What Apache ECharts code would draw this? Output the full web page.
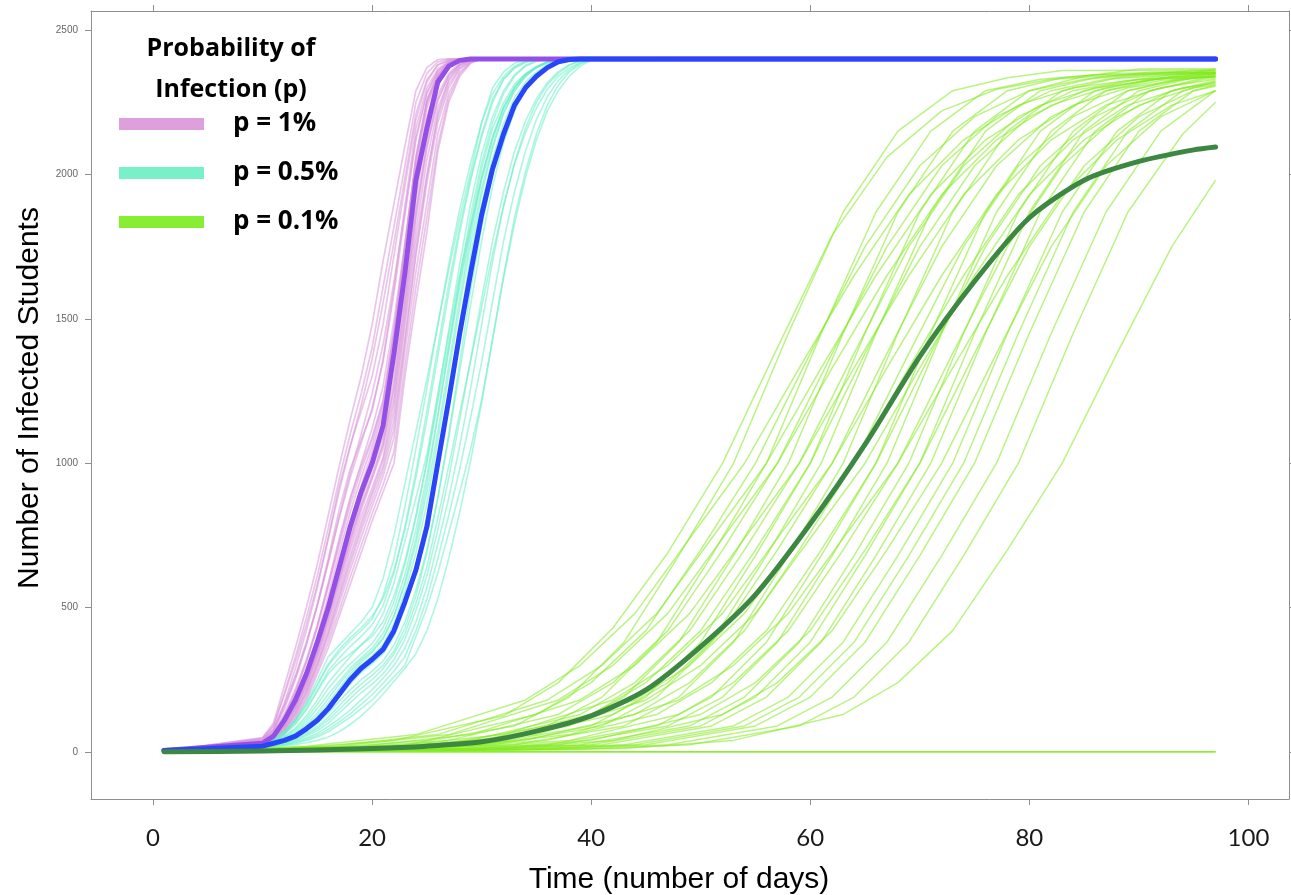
<!DOCTYPE html>
<html><head><meta charset="utf-8">
<script src="https://cdn.jsdelivr.net/npm/echarts@6/dist/echarts.min.js"></script>
<style>html,body{margin:0;padding:0;background:#fff}#c{width:1291px;height:895px}</style>
</head><body><div id="c"></div>
<script>
const X_TICKS=[0,20,40,60,80,100];
const Y_TICKS=[0,500,1000,1500,2000,2500];
const LEGEND_TITLE='Probability of\nInfection (p)';
const LEGEND_NAMES=['p = 1%','p = 0.5%','p = 0.1%'];

const PURPLE_DAYS=[1,10,11,12,13,14,15,16,17,18,19,20,21,22,23,24,25,26,27,28,29,30,97];
const PURPLE_RUNS=[
[3,50,100,230,360,500,650,820,990,1150,1300,1480,1700,1900,2100,2290,2370,2398,2400,2400,2400,2400,2400],
[3,46,89,198,313,440,580,740,903,1058,1200,1360,1555,1765,1988,2210,2328,2379,2394,2399,2400,2400,2400],
[3,44,80,170,290,420,570,740,920,1060,1180,1300,1480,1720,1960,2190,2320,2380,2396,2400,2400,2400,2400],
[3,42,78,165,265,380,510,660,815,965,1100,1240,1410,1630,1875,2130,2285,2359,2388,2398,2400,2400,2400],
[3,40,72,150,250,370,510,670,840,980,1080,1180,1360,1610,1890,2160,2300,2365,2392,2400,2400,2400,2400],
[3,38,67,133,218,320,440,580,728,873,1000,1120,1265,1495,1763,2050,2243,2340,2382,2397,2400,2400,2400],
[3,36,62,120,205,310,435,585,740,880,990,1090,1220,1460,1750,2060,2260,2350,2388,2399,2400,2400,2400],
[3,35,55,100,170,260,370,500,640,780,900,1000,1120,1360,1650,1970,2200,2320,2375,2395,2400,2400,2400],
[3,34,58,110,180,270,380,510,650,790,920,1040,1180,1420,1720,2020,2230,2335,2380,2397,2400,2400,2400],
[3,33,52,95,160,245,350,475,610,745,870,980,1090,1300,1590,1910,2170,2310,2370,2394,2400,2400,2400],
[3,32,50,90,155,240,345,465,598,730,848,950,1065,1270,1563,1868,2100,2260,2344,2382,2397,2400,2400],
[3,30,48,88,150,232,335,455,585,715,835,945,1050,1230,1520,1840,2090,2255,2340,2380,2396,2400,2400],
[3,28,45,80,140,220,320,430,555,680,795,900,1010,1180,1475,1765,2000,2200,2312,2368,2393,2400,2400],
[3,27,43,78,135,210,305,415,540,665,780,890,990,1150,1430,1730,1990,2210,2330,2378,2396,2400,2400],
[3,24,40,70,125,200,295,395,513,630,743,850,955,1090,1388,1663,1900,2140,2281,2354,2389,2400,2400],
[3,20,35,60,110,180,270,360,470,580,690,800,900,1000,1300,1560,1800,2080,2250,2340,2385,2400,2400],
[3,36,60,115,190,285,400,540,690,830,950,1060,1200,1440,1740,2040,2250,2345,2385,2398,2400,2400,2400],
[3,29,47,85,148,228,330,445,570,700,815,915,1020,1210,1500,1800,2050,2230,2325,2374,2395,2400,2400],
[3,47,92,205,330,465,610,775,945,1100,1240,1400,1610,1820,2030,2250,2350,2390,2399,2400,2400,2400,2400],
[3,41,75,158,258,375,505,655,810,950,1070,1190,1350,1590,1860,2120,2280,2358,2390,2399,2400,2400,2400],
[3,37,64,125,210,312,430,570,715,855,975,1080,1210,1460,1760,2060,2255,2345,2385,2398,2400,2400,2400],
[3,31,49,92,158,242,348,470,600,735,855,960,1070,1260,1550,1870,2120,2275,2350,2385,2398,2400,2400],
[3,26,42,75,132,208,305,410,530,650,765,870,975,1120,1420,1720,1970,2180,2300,2365,2392,2400,2400],
[3,22,37,65,118,190,282,378,490,605,715,825,925,1040,1340,1610,1850,2100,2265,2348,2388,2400,2400]
];
const PURPLE_MEAN=[5,30,55,110,180,270,380,500,640,780,900,1000,1130,1380,1660,1980,2160,2320,2375,2395,2400,2400,2400];

const TEAL_DAYS=[1,10,11,12,13,14,15,16,17,18,19,20,21,22,23,24,25,26,27,28,29,30,31,32,33,34,35,36,37,38,39,40,97];
const TEAL_RUNS=[
[2,30,45,70,110,170,250,330,370,410,450,500,600,750,930,1110,1290,1480,1670,1850,2010,2180,2300,2355,2385,2397,2400,2400,2400,2400,2400,2400,2400],
[2,26,38,55,83,125,180,240,285,330,370,410,478,585,730,880,1030,1240,1450,1655,1830,2020,2160,2248,2313,2349,2370,2385,2395,2399,2400,2400,2400],
[2,28,44,68,105,160,230,300,345,385,420,460,540,670,850,1050,1260,1480,1690,1880,2040,2180,2280,2340,2375,2392,2399,2400,2400,2400,2400,2400,2400],
[2,22,30,40,55,80,110,150,200,250,290,320,355,420,520,630,780,1000,1220,1450,1660,1860,2020,2140,2240,2300,2340,2370,2390,2398,2400,2400,2400],
[2,23,32,44,62,90,125,170,220,270,310,345,390,470,590,740,930,1160,1400,1640,1860,2040,2180,2280,2340,2375,2392,2399,2400,2400,2400,2400,2400],
[2,21,28,38,52,75,105,145,190,235,275,305,340,400,500,620,780,990,1230,1480,1720,1930,2090,2210,2290,2340,2370,2388,2397,2400,2400,2400,2400],
[2,27,40,62,95,145,210,270,310,340,370,400,450,540,660,820,1010,1230,1460,1690,1900,2070,2200,2290,2345,2378,2394,2400,2400,2400,2400,2400,2400],
[2,20,25,33,43,60,81,110,148,185,220,250,288,340,410,515,640,810,990,1175,1355,1540,1725,1890,2035,2145,2230,2295,2340,2369,2388,2398,2400],
[2,20,26,34,46,64,88,120,160,200,235,265,300,350,430,540,690,880,1100,1350,1600,1820,2000,2140,2240,2310,2350,2375,2390,2398,2400,2400,2400],
[2,18,20,25,30,40,52,70,95,120,150,180,220,260,300,400,500,620,760,900,1050,1220,1430,1640,1830,1990,2120,2220,2290,2340,2375,2395,2400],
[2,19,22,28,36,48,65,88,115,145,180,215,255,300,360,450,570,720,880,1060,1260,1480,1700,1890,2040,2160,2250,2310,2350,2378,2394,2400,2400],
[2,25,36,52,78,115,165,220,265,305,340,375,430,520,650,810,1000,1210,1420,1630,1820,1990,2130,2230,2300,2345,2372,2390,2398,2400,2400,2400,2400],
[2,21,27,36,50,70,98,135,175,215,250,280,315,370,450,560,700,880,1090,1320,1550,1770,1960,2110,2220,2295,2342,2370,2388,2397,2400,2400,2400],
[2,29,46,72,112,165,235,305,355,395,430,470,530,630,770,950,1150,1370,1590,1800,1980,2130,2250,2330,2370,2390,2398,2400,2400,2400,2400,2400,2400],
[2,18,19,22,26,32,40,52,70,95,125,160,200,245,290,340,420,530,670,830,1010,1210,1430,1650,1850,2010,2140,2240,2310,2355,2382,2396,2400],
[2,24,33,46,66,96,135,185,235,280,318,350,395,470,580,720,900,1110,1340,1570,1790,1980,2120,2230,2300,2345,2372,2390,2398,2400,2400,2400,2400],
[2,27,42,64,100,150,215,280,325,365,400,440,505,620,780,970,1180,1400,1620,1820,1990,2140,2260,2330,2368,2388,2397,2400,2400,2400,2400,2400,2400],
[2,23,31,42,58,85,118,160,210,260,300,332,372,445,555,690,860,1080,1310,1540,1760,1950,2100,2215,2290,2340,2370,2388,2397,2400,2400,2400,2400],
[2,20,24,31,40,55,74,100,135,170,205,235,270,320,390,490,610,770,950,1150,1360,1570,1770,1940,2080,2185,2262,2318,2356,2380,2394,2400,2400],
[2,19,21,26,33,44,58,78,104,132,165,198,238,280,330,420,530,670,820,980,1160,1350,1560,1770,1940,2080,2190,2270,2325,2362,2386,2398,2400],
[2,25,35,50,72,105,150,200,245,290,325,360,410,495,615,770,955,1170,1390,1610,1810,1990,2130,2235,2305,2348,2374,2390,2398,2400,2400,2400,2400],
[2,22,29,39,53,77,108,148,195,242,282,312,348,410,510,625,780,995,1225,1465,1690,1895,2055,2175,2265,2320,2355,2380,2393,2399,2400,2400,2400]
];
const BLUE_MEAN=[5,20,30,40,55,80,110,150,200,250,290,320,355,420,520,630,780,1000,1220,1450,1660,1860,2020,2140,2240,2300,2340,2370,2390,2398,2400,2400,2400];

const GREEN_RUNS=[
[[1,1],[12,12],[22,40],[32,125],[37,240],[42,430],[47,690],[52,1000],[57,1400],[62,1790],[67,2060],[72,2220],[77,2295],[82,2330],[92,2352],[97,2355]],
[[1,1],[13,8],[23,25],[33,90],[38,190],[43,380],[48,680],[53,1000],[58,1450],[63,1870],[68,2150],[73,2290],[78,2335],[83,2360],[97,2362]],
[[1,1],[14,20],[24,60],[34,180],[39,300],[44,480],[49,740],[54,1000],[59,1330],[64,1650],[69,1930],[74,2120],[79,2240],[84,2300],[94,2350],[97,2352]],
[[1,1],[15,12],[25,40],[35,130],[40,240],[45,420],[50,700],[55,1000],[60,1380],[65,1750],[70,2030],[75,2200],[80,2290],[85,2330],[95,2360],[97,2361]],
[[1,1],[16,8],[26,25],[36,90],[41,190],[46,380],[51,680],[56,1000],[61,1450],[66,1870],[71,2150],[76,2290],[81,2330],[86,2345],[97,2347]],
[[1,1],[16,20],[26,60],[36,180],[41,300],[46,480],[51,740],[56,1000],[61,1330],[66,1650],[71,1930],[76,2120],[81,2240],[86,2300],[96,2350],[97,2350]],
[[1,1],[17,12],[27,40],[37,130],[42,240],[47,420],[52,700],[57,1000],[62,1380],[67,1750],[72,2030],[77,2200],[82,2290],[87,2330],[97,2355]],
[[1,1],[17,20],[27,60],[37,180],[42,300],[47,480],[52,740],[57,1000],[62,1330],[67,1650],[72,1930],[77,2120],[82,2240],[87,2300],[97,2365]],
[[1,1],[18,8],[28,25],[38,90],[43,190],[48,380],[53,680],[58,1000],[63,1450],[68,1870],[73,2150],[78,2290],[83,2335],[88,2350],[97,2352]],
[[1,1],[19,12],[29,40],[39,130],[44,240],[49,420],[54,700],[59,1000],[64,1380],[69,1750],[74,2030],[79,2200],[84,2290],[89,2325],[97,2340]],
[[1,1],[19,20],[29,60],[39,180],[44,300],[49,480],[54,740],[59,1000],[64,1330],[69,1650],[74,1930],[79,2120],[84,2240],[89,2300],[97,2345]],
[[1,1],[20,12],[30,40],[40,130],[45,240],[50,420],[55,700],[60,1000],[65,1380],[70,1750],[75,2030],[80,2200],[85,2290],[90,2330],[97,2347]],
[[1,1],[20,8],[30,25],[40,90],[45,190],[50,380],[55,680],[60,1000],[65,1450],[70,1870],[75,2150],[80,2290],[85,2340],[90,2365],[97,2366]],
[[1,1],[21,8],[31,25],[41,90],[46,190],[51,380],[56,680],[61,1000],[66,1450],[71,1870],[76,2150],[81,2290],[86,2335],[91,2355],[97,2357]],
[[1,1],[22,12],[32,40],[42,130],[47,240],[52,420],[57,700],[62,1000],[67,1380],[72,1750],[77,2030],[82,2200],[87,2290],[92,2325],[97,2338]],
[[1,1],[22,20],[32,60],[42,180],[47,300],[52,480],[57,740],[62,1000],[67,1330],[72,1650],[77,1930],[82,2120],[87,2240],[92,2300],[97,2330]],
[[1,1],[23,8],[33,25],[43,90],[48,190],[53,380],[58,680],[63,1000],[68,1450],[73,1870],[78,2150],[83,2290],[88,2335],[93,2350],[97,2351]],
[[1,1],[24,12],[34,40],[44,130],[49,240],[54,420],[59,700],[64,1000],[69,1380],[74,1750],[79,2030],[84,2200],[89,2290],[94,2330],[97,2338]],
[[1,1],[24,20],[34,60],[44,180],[49,300],[54,480],[59,740],[64,1000],[69,1330],[74,1650],[79,1930],[84,2120],[89,2240],[94,2300],[97,2315]],
[[1,1],[25,20],[35,60],[45,180],[50,300],[55,480],[60,740],[65,1000],[70,1330],[75,1650],[80,1930],[85,2120],[90,2240],[95,2300],[97,2310]],
[[1,1],[26,12],[36,40],[46,130],[51,240],[56,420],[61,700],[66,1000],[71,1380],[76,1750],[81,2030],[86,2200],[91,2290],[96,2330],[97,2334]],
[[1,1],[26,8],[36,25],[46,90],[51,190],[56,380],[61,680],[66,1000],[71,1450],[76,1870],[81,2150],[86,2290],[91,2330],[96,2340],[97,2340]],
[[1,1],[27,8],[37,25],[47,90],[52,190],[57,380],[62,680],[67,1000],[72,1450],[77,1870],[82,2150],[87,2290],[92,2335],[97,2350]],
[[1,1],[28,12],[38,40],[48,130],[53,240],[58,420],[63,700],[68,1000],[73,1380],[78,1750],[83,2030],[88,2200],[93,2290],[97,2320]],
[[1,1],[28,20],[38,60],[48,180],[53,300],[58,480],[63,740],[68,1000],[73,1330],[78,1650],[83,1930],[88,2120],[93,2240],[97,2290]],
[[1,1],[29,8],[39,25],[49,90],[54,190],[59,380],[64,680],[69,1000],[74,1450],[79,1870],[84,2150],[89,2290],[94,2335],[97,2350]],
[[1,1],[30,12],[40,40],[50,130],[55,240],[60,420],[65,700],[70,1000],[75,1380],[80,1750],[85,2030],[90,2200],[95,2290],[97,2305]],
[[1,1],[30,8],[40,25],[50,90],[55,190],[60,380],[65,680],[70,1000],[75,1450],[80,1870],[85,2150],[90,2290],[95,2335],[97,2340]],
[[1,1],[31,8],[41,25],[51,90],[56,190],[61,380],[66,680],[71,1000],[76,1450],[81,1870],[86,2150],[91,2290],[96,2335],[97,2340]],
[[1,1],[32,12],[42,40],[52,130],[57,240],[62,420],[67,700],[72,1000],[77,1380],[82,1750],[87,2030],[92,2200],[97,2290]],
[[1,1],[33,8],[43,25],[53,90],[58,190],[63,380],[68,680],[73,1000],[78,1450],[83,1870],[88,2150],[93,2290],[97,2325]],
[[1,1],[34,8],[44,25],[54,90],[59,190],[64,380],[69,680],[74,1000],[79,1450],[84,1870],[89,2150],[94,2290],[97,2320]],
[[1,1],[35,8],[45,25],[55,90],[60,190],[65,380],[70,680],[75,1000],[80,1450],[85,1870],[90,2150],[95,2290],[97,2310]],
[[1,1],[37,8],[47,25],[57,90],[62,190],[67,380],[72,680],[77,1000],[82,1450],[87,1870],[92,2150],[97,2290]],
[[1,1],[39,8],[49,25],[59,90],[64,190],[69,380],[74,680],[79,1000],[84,1450],[89,1870],[94,2140],[97,2250]],
[[1,1],[43,12],[53,40],[63,130],[68,240],[73,420],[78,700],[83,1000],[88,1380],[93,1750],[97,1980]],
[[1,1],[97,1]],
[[1,1],[97,1]],
[[1,1],[97,1]]
];
const GREEN_MEAN=[[1,1],[10,3],[20,12],[25,20],[30,35],[35,72],[40,125],[45,215],[50,365],[55,545],[60,790],[65,1065],[70,1370],[75,1630],[80,1850],[85,1980],[90,2045],[95,2085],[97,2095]];

const COLORS={
  run1:'#d896d8', run05:'#6aeec4', run01:'#82ea1e',
  mean1:'#9450e6', mean05:'#2846f8', mean01:'#3c8741',
  leg1:'#dda0dd', leg05:'#78f0c8', leg01:'#88ee33',
  axis:'#8f8f8f'
};

function zip(days, vals){ return days.map((d,i)=>[d, vals[i]]); }
function run(name, data, color, op, w){
  return {type:'line', name, data, symbol:'none', showSymbol:false, silent:true, animation:false, z:2,
    lineStyle:{width:w, color, opacity:op}, itemStyle:{color}, emphasis:{disabled:true}};
}
function mean(name, data, color, smooth){
  return {type:'line', name, data, symbol:'none', showSymbol:false, silent:true, animation:false, z:3,
    smooth: smooth||false,
    lineStyle:{width:5, color, cap:'round', join:'round'}, itemStyle:{color}, emphasis:{disabled:true}};
}

const series=[];
PURPLE_RUNS.forEach(v=>series.push(run(LEGEND_NAMES[0], zip(PURPLE_DAYS,v), COLORS.run1, 0.55, 1.7)));
TEAL_RUNS.forEach(v=>series.push(run(LEGEND_NAMES[1], zip(TEAL_DAYS,v), COLORS.run05, 0.55, 1.6)));
GREEN_RUNS.forEach(v=>series.push(run(LEGEND_NAMES[2], v, COLORS.run01, 0.55, 1.5)));
series.push(mean('mean 1%', zip(PURPLE_DAYS,PURPLE_MEAN), COLORS.mean1));
series.push(mean('mean 0.5%', zip(TEAL_DAYS,BLUE_MEAN), COLORS.mean05));
series.push(mean('mean 0.1%', GREEN_MEAN, COLORS.mean01, 0.25));

const axisLine={show:true, onZero:false, lineStyle:{color:COLORS.axis, width:1}};
const chart=echarts.init(document.getElementById('c'), null, {renderer:'canvas'});
chart.setOption({
  animation:false,
  backgroundColor:'#ffffff',
  grid:{left:91, right:2, top:11, bottom:96, containLabel:false, outerBoundsMode:'none'},
  xAxis:[
    {type:'value', position:'bottom', min:-5.66, max:103.7,
     axisLine, splitLine:{show:false},
     axisTick:{show:true, inside:false, length:6, lineStyle:{color:COLORS.axis}, customValues:X_TICKS},
     axisLabel:{show:true, customValues:X_TICKS, margin:27, fontSize:24, fontFamily:'Lato', color:'#1a1a1a', formatter:v=>String(v)},
     name:'Time (number of days)', nameLocation:'middle', nameGap:66,
     nameTextStyle:{fontSize:30, fontFamily:'Liberation Sans', color:'#000', padding:[0,22,0,0]}},
    {type:'value', position:'top', min:-5.66, max:103.7,
     axisLine, splitLine:{show:false},
     axisTick:{show:true, inside:false, length:6, lineStyle:{color:COLORS.axis}, customValues:X_TICKS},
     axisLabel:{show:false}}
  ],
  yAxis:[
    {type:'value', position:'left', min:-163, max:2566,
     axisLine, splitLine:{show:false},
     axisTick:{show:true, inside:false, length:6, lineStyle:{color:COLORS.axis}, customValues:Y_TICKS},
     axisLabel:{show:true, customValues:Y_TICKS, margin:13, fontSize:10, fontFamily:'Liberation Sans', color:'#666', formatter:v=>String(v)},
     name:'Number of Infected Students', nameLocation:'middle', nameGap:46,
     nameTextStyle:{fontSize:30, fontFamily:'Liberation Sans', color:'#000', padding:[0,0,0,14]}},
    {type:'value', position:'right', min:-163, max:2566,
     axisLine, splitLine:{show:false},
     axisTick:{show:true, inside:false, length:6, lineStyle:{color:COLORS.axis}, customValues:Y_TICKS},
     axisLabel:{show:false}}
  ],
  legend:{orient:'vertical', left:119, top:111, padding:0, itemWidth:85, itemHeight:12, itemGap:23, icon:'rect',
    selectedMode:false,
    textStyle:{fontFamily:'Open Sans', fontWeight:'bold', fontSize:26, color:'#000', padding:[0,0,8,24]},
    data:[
      {name:LEGEND_NAMES[0], icon:'rect', itemStyle:{color:COLORS.leg1, opacity:1}},
      {name:LEGEND_NAMES[1], icon:'rect', itemStyle:{color:COLORS.leg05, opacity:1}},
      {name:LEGEND_NAMES[2], icon:'rect', itemStyle:{color:COLORS.leg01, opacity:1}}
    ]},
  graphic:[{type:'text', x:231, y:28, silent:true,
    style:{text:LEGEND_TITLE, textAlign:'center', textVerticalAlign:'top', fontSize:25, fontWeight:'bold',
      fontFamily:'Open Sans', lineHeight:41, fill:'#000'}}],
  series
});
</script></body></html>
